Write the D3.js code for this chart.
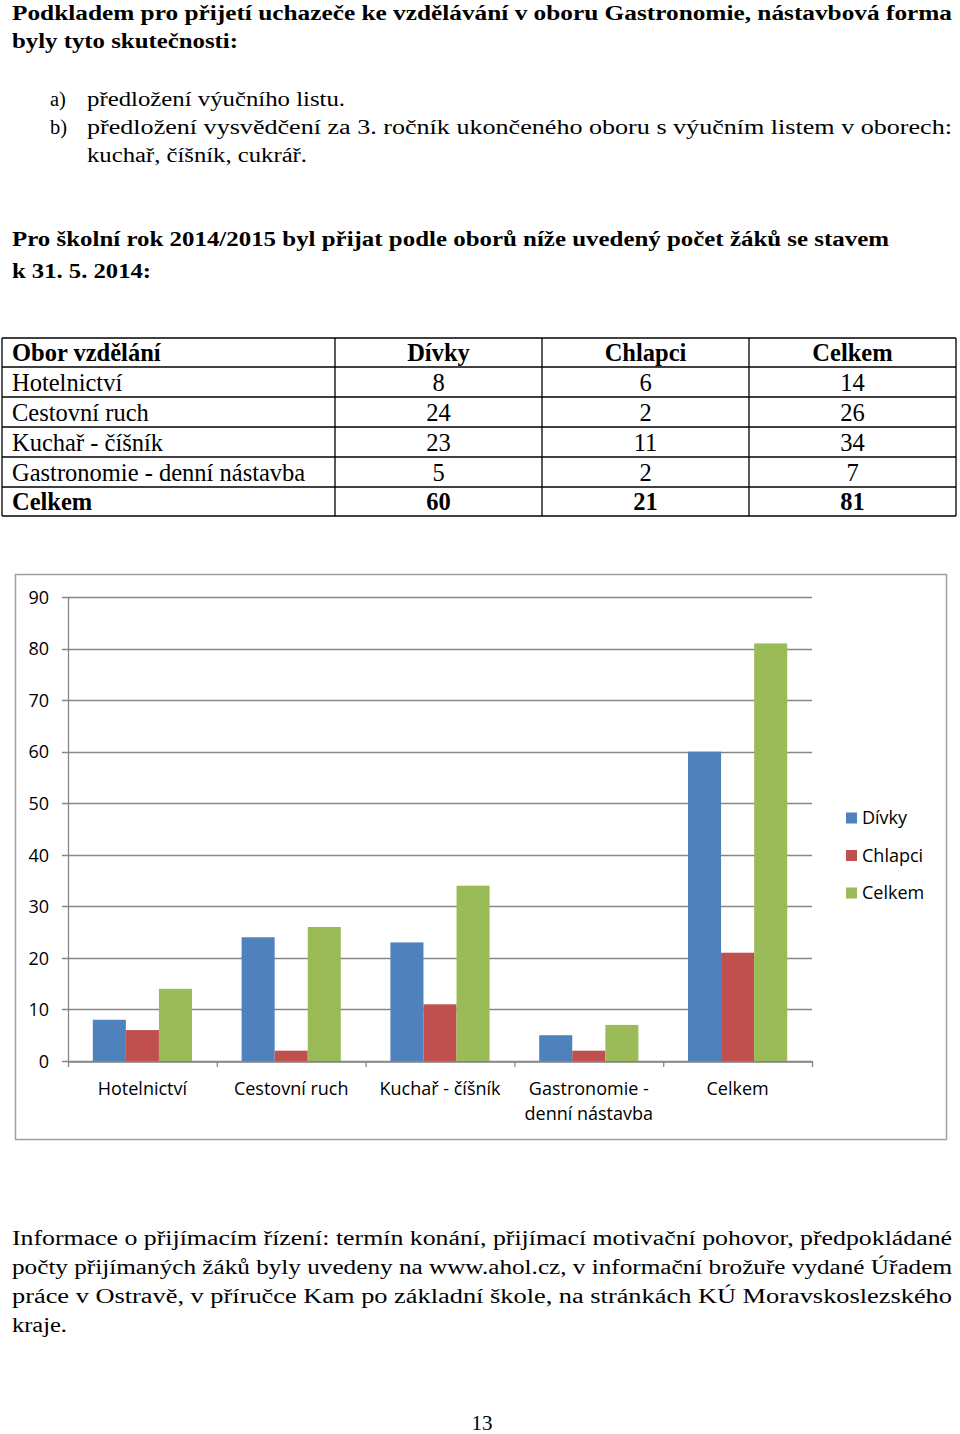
<!DOCTYPE html>
<html><head><meta charset="utf-8">
<script src="https://cdn.jsdelivr.net/npm/d3@7"></script>
<style>html,body{margin:0;padding:0;background:#fff;}svg{display:block;}</style>
</head><body>
<script>
// ---- data ----
const categories = ["Hotelnictví","Cestovní ruch","Kuchař - číšník","Gastronomie - denní nástavba","Celkem"];
const seriesNames = ["Dívky","Chlapci","Celkem"];
const divky   = [8, 24, 23, 5, 60];
const chlapci = [6, 2, 11, 2, 21];
const celkem  = [14, 26, 34, 7, 81];
const yTicks  = [0,10,20,30,40,50,60,70,80,90];
const tableHeader = ["Obor vzdělání","Dívky","Chlapci","Celkem"];

const introLines = [
  "Podkladem pro přijetí uchazeče ke vzdělávání v oboru Gastronomie, nástavbová forma",
  "byly tyto skutečnosti:"
];
const listItems = [
  ["a)", "předložení výučního listu."],
  ["b)", "předložení vysvědčení za 3. ročník ukončeného oboru s výučním listem v oborech:"],
  ["",   "kuchař, číšník, cukrář."]
];
const headLines = [
  "Pro školní rok 2014/2015 byl přijat podle oborů níže uvedený počet žáků se stavem",
  "k 31. 5. 2014:"
];
const footLines = [
  "Informace o přijímacím řízení: termín konání, přijímací motivační pohovor, předpokládané",
  "počty přijímaných žáků byly uvedeny na www.ahol.cz, v informační brožuře vydané Úřadem",
  "práce v Ostravě, v příručce Kam po základní škole, na stránkách KÚ Moravskoslezského",
  "kraje."
];
const pageNumber = "13";

// ---- page ----
const W = 960, H = 1434;
const svg = d3.select("body").append("svg").attr("width", W).attr("height", H);
svg.append("rect").attr("width", W).attr("height", H).attr("fill", "#fff");
const serif = "\"Liberation Serif\", Tinos, \"Times New Roman\", Times, serif";
const sans = "\"Open Sans\", \"Noto Sans\", sans-serif";

function line(txt, x, y, opts) {
  const t = svg.append("text").attr("x", x).attr("y", y)
    .style("font-family", serif).style("font-size", (opts.size || 20.5) + "px")
    .style("font-weight", opts.bold ? "bold" : "normal")
    .attr("fill", "#000").text(txt);
  if (opts.width) t.attr("textLength", opts.width).attr("lengthAdjust", "spacingAndGlyphs");
  if (opts.anchor) t.attr("text-anchor", opts.anchor);
  return t;
}

line(introLines[0], 12, 20, {bold: true, width: 940});
line(introLines[1], 12, 48, {bold: true, width: 226});
const listY = [106, 134, 162];
const listW = [258, 865, 220];
listItems.forEach((it, i) => {
  if (it[0]) line(it[0], 50, listY[i], {});
  line(it[1], 87, listY[i], {width: listW[i]});
});
line(headLines[0], 12, 246, {bold: true, width: 877});
line(headLines[1], 12, 278, {bold: true, width: 139});

// ---- table ----
const colX = [2, 335, 542, 749, 956];
const rowY = [338, 367, 397, 427, 457, 487, 516];
const tg = svg.append("g");
const rows = [tableHeader].concat(categories.map((c, i) => [c, divky[i], chlapci[i], celkem[i]]));
rows.forEach((r, ri) => {
  const yMid = (rowY[ri] + rowY[ri + 1]) / 2;
  const bold = ri === 0 || ri === rows.length - 1;
  r.forEach((v, ci) => {
    const x = ci === 0 ? colX[0] + 10 : (colX[ci] + colX[ci + 1]) / 2;
    tg.append("text").attr("x", x).attr("y", yMid + 8.5)
      .attr("text-anchor", ci === 0 ? "start" : "middle")
      .style("font-family", serif).style("font-size", "24.5px")
      .style("font-weight", bold ? "bold" : "normal").text(v);
  });
});
rowY.forEach(y => tg.append("line").attr("x1", colX[0]).attr("x2", colX[4]).attr("y1", y).attr("y2", y)
  .attr("stroke", "#000").attr("stroke-width", 1.3));
colX.forEach(x => tg.append("line").attr("x1", x).attr("x2", x).attr("y1", rowY[0]).attr("y2", rowY[rowY.length - 1])
  .attr("stroke", "#000").attr("stroke-width", 1.3));

// ---- chart ----
svg.append("rect").attr("x", 15.5).attr("y", 574.5).attr("width", 931).attr("height", 565)
  .attr("fill", "#fff").attr("stroke", "#a0a0a0").attr("stroke-width", 1.5);

const plot = {left: 68, right: 812, top: 597, bottom: 1061};
const x0 = d3.scaleBand().domain(categories).range([plot.left, plot.right]).paddingInner(0).paddingOuter(0);
const y = d3.scaleLinear().domain([0, 90]).range([plot.bottom, plot.top]);
const bw = x0.bandwidth() / (3 + 1.5); // gap width 150%
const x1 = d3.scaleBand().domain(seriesNames).range([bw * 0.75, bw * 0.75 + bw * 3]);
const colors = d3.scaleOrdinal().domain(seriesNames).range(["#4F81BD", "#C0504D", "#9BBB59"]);
const gridColor = "#868686";
const fs = 18;

const cg = svg.append("g");
cg.append("g").selectAll("line").data(yTicks).join("line")
  .attr("x1", plot.left - 6).attr("x2", plot.right)
  .attr("y1", d => Math.round(y(d)) + 0.5).attr("y2", d => Math.round(y(d)) + 0.5)
  .attr("stroke", gridColor).attr("stroke-width", 1.3);
const yAxis = d3.axisLeft(y).tickValues(yTicks).tickSize(0).tickPadding(0);
const ya = cg.append("g").attr("transform", `translate(${plot.left - 19},0)`).call(yAxis);
ya.select(".domain").remove();
ya.selectAll("text").style("font-family", sans).style("font-size", fs + "px").attr("fill", "#000").attr("dy", "0.35em");

const seriesData = [divky, chlapci, celkem];
categories.forEach((c, i) => {
  cg.append("g").attr("transform", `translate(${x0(c)},0)`)
    .selectAll("rect").data(seriesNames.map((s, k) => ({s, v: seriesData[k][i]}))).join("rect")
    .attr("x", d => x1(d.s)).attr("width", x1.bandwidth())
    .attr("y", d => y(d.v)).attr("height", d => y(0) - y(d.v))
    .attr("fill", d => colors(d.s));
});

cg.append("line").attr("x1", plot.left + 0.5).attr("x2", plot.left + 0.5).attr("y1", plot.top).attr("y2", plot.bottom)
  .attr("stroke", gridColor).attr("stroke-width", 1.3);
const xAxis = d3.axisBottom(x0).tickSize(0).tickPadding(0);
const xa = cg.append("g").attr("transform", `translate(0,${Math.round(plot.bottom) + 0.5})`).call(xAxis);
xa.select(".domain").attr("stroke", gridColor).attr("stroke-width", 1.3);
const bounds = categories.map(c => x0(c)).concat([plot.right]);
cg.append("g").selectAll("line").data(bounds).join("line")
  .attr("x1", d => d + 0.5).attr("x2", d => d + 0.5)
  .attr("y1", plot.bottom).attr("y2", plot.bottom + 6)
  .attr("stroke", gridColor).attr("stroke-width", 1.3);

xa.selectAll(".tick text").each(function(d) {
  const t = d3.select(this);
  t.text(null).style("font-family", sans).style("font-size", fs + "px").attr("fill", "#000").attr("y", 0).attr("dy", null);
  const words = d.split(" ");
  let lines = [], cur = [];
  const probe = t.append("tspan");
  words.forEach(w => {
    const trial = cur.concat([w]).join(" ");
    probe.text(trial);
    if (probe.node().getComputedTextLength() > 142 && cur.length) { lines.push(cur.join(" ")); cur = [w]; }
    else cur.push(w);
  });
  lines.push(cur.join(" "));
  probe.remove();
  lines.forEach((l, li) => t.append("tspan").attr("x", 0).attr("y", 33 + li * 25).text(l));
});

const lg = cg.append("g");
seriesNames.forEach((s, i) => {
  const cy = 818 + i * 37.5;
  lg.append("rect").attr("x", 846).attr("y", cy - 5.5).attr("width", 11).attr("height", 11).attr("fill", colors(s));
  lg.append("text").attr("x", 862).attr("y", cy).attr("dy", "0.35em")
    .style("font-family", sans).style("font-size", fs + "px").attr("fill", "#000").text(s);
});

// ---- footer paragraph ----
const footY = [1245, 1274, 1303, 1332];
footLines.forEach((l, i) => line(l, 12, footY[i], {width: i < 3 ? 940 : 55}));
line(pageNumber, 482, 1430, {anchor: "middle", width: 21});
</script>
</body></html>
